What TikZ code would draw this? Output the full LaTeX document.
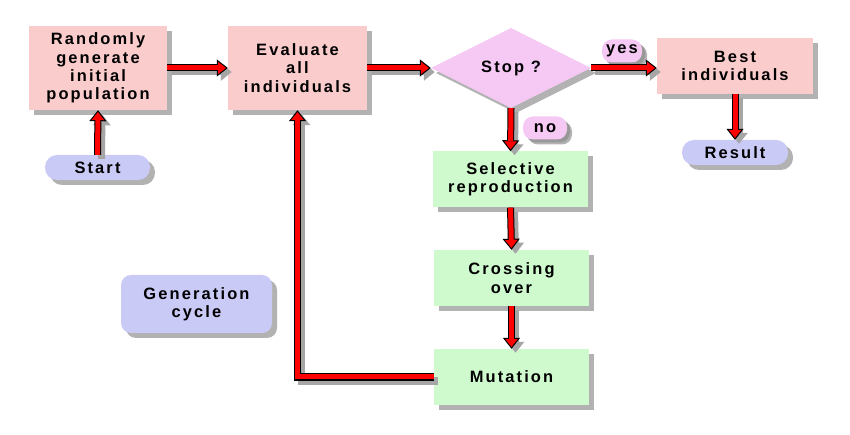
\documentclass[tikz,border=0pt]{standalone}
\usepackage{fontspec}
\setmainfont{Liberation Sans}
\newfontfamily\labfont[LetterSpace=13]{Liberation Sans}
\usetikzlibrary{shapes.geometric,shadows,arrows.meta}
\definecolor{boxpink}{RGB}{250,204,204}
\definecolor{diapink}{RGB}{246,200,244}
\definecolor{boxgreen}{RGB}{206,250,206}
\definecolor{boxblue}{RGB}{202,202,246}
\definecolor{arrred}{RGB}{255,0,0}
\tikzset{
  box/.style={draw=none, font=\labfont\bfseries\fontsize{16.5}{18.5}\selectfont, align=center, inner sep=0pt,
    drop shadow={shadow xshift=5bp, shadow yshift=-5bp, fill=black!50, opacity=0.6}},
  pinkbox/.style={box, fill=boxpink},
  greenbox/.style={box, fill=boxgreen, minimum width=155bp, minimum height=56bp},
  pill/.style={box, fill=boxblue, rounded corners=12bp, minimum height=25bp},
  tag/.style={box, fill=diapink, rounded corners=10bp, minimum height=23bp,
    drop shadow={shadow xshift=3bp, shadow yshift=-3bp, fill=black!50, opacity=0.5}},
  decision/.style={box, fill=diapink, diamond, aspect=2, minimum width=160bp, minimum height=80bp},
  arr/.style={draw=black, line width=7bp,
    -{Triangle[length=11bp,width=17bp,line width=1bp,fill=arrred]},
    preaction={draw=black!35, line width=7bp, -{Triangle[length=11bp,width=17bp,fill=black!35]},
      transform canvas={xshift=4bp,yshift=-4bp}},
    postaction={draw=arrred, line width=5bp, -, shorten >=10bp}},
  feed/.style={arr, line join=miter}
}
\begin{document}
\begin{tikzpicture}[x=1bp,y=-1bp]
\useasboundingbox[fill=white] (0,0) rectangle (850,435);
\node[pinkbox, minimum width=138bp, minimum height=84bp] (rand) at (98,68) {Randomly\\generate\\initial\\population};
\node[pinkbox, minimum width=139bp, minimum height=84bp] (eval) at (297.5,68) {Evaluate\\all\\individuals};
\node[pill, minimum width=105bp] (start) at (97.5,167.5) {Start};
\node[decision] (stop) at (511,68) {Stop ?};
\node[pinkbox, minimum width=156bp, minimum height=56bp] (best) at (735,66) {Best\\individuals};
\node[pill, minimum width=106bp] (result) at (735,152.5) {Result};
\node[tag, minimum width=40bp] (yes) at (622,51) {yes};
\node[tag, minimum width=44bp] (no) at (545,128) {no};
\node[greenbox] (sel) at (510.5,179.5) {Selective\\reproduction};
\node[greenbox] (cross) at (511.5,278) {Crossing\\over};
\node[greenbox] (mut) at (511.5,377) {Mutation};
\node[box, fill=boxblue, rounded corners=10bp, minimum width=151bp, minimum height=58bp] (gen) at (196.5,304) {Generation\\cycle};

\draw[arr] (start.north) -- (rand.south);
\draw[arr] (rand.east) -- (eval.west);
\draw[arr] (eval.east) -- (stop.west);
\draw[arr] (stop.east) -- (stop.east -| best.west);
\draw[arr] (best.south) -- (result.north);
\draw[arr] (stop.south) -- (sel.north);
\draw[arr] (sel.south) -- (cross.north);
\draw[arr] (cross.south) -- (mut.north);
\draw[feed] (mut.west) -| (eval.south);
\end{tikzpicture}
\end{document}
